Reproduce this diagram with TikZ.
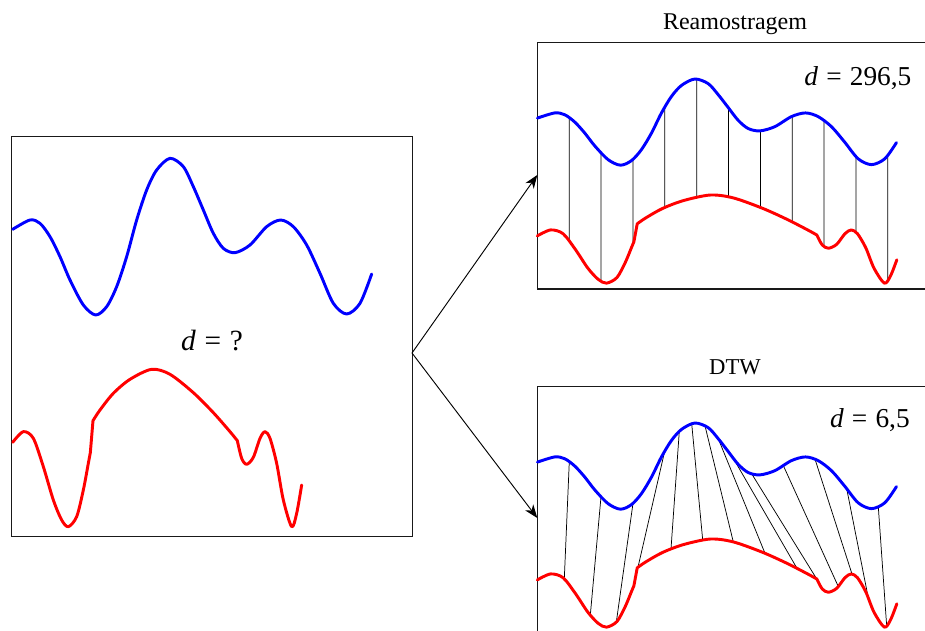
\documentclass[tikz,border=0pt]{standalone}
\usepackage{fontspec}
\setmainfont{Liberation Serif}
\usetikzlibrary{arrows.meta,intersections}
\definecolor{cblue}{RGB}{0,0,255}
\definecolor{cred}{RGB}{255,0,0}
\def\bluecurve{plot[smooth] coordinates {(38,298) (90,270) (120,280) (150,320) (180,380) (210,450) (250,525) (287,555) (320,530) (350,470) (380,380) (410,270) (440,180) (470,120) (510,85) (550,110) (580,170) (610,240) (640,310) (670,355) (705,368) (750,345) (800,290) (842,270) (880,290) (920,345) (960,430) (1000,520) (1040,552) (1080,520) (1115,432)}}
\def\redcurve{plot[smooth] coordinates {(38,937) (70,905) (100,925) (130,1010) (160,1110) (185,1170) (205,1190) (230,1160) (250,1080) (265,1000) (271,968)} -- plot[smooth] coordinates {(279,872) (300,840) (340,790) (390,748) (455,718) (510,733) (580,788) (640,848) (690,905) (712,932)} -- plot[smooth] coordinates {(712,932) (725,985) (740,1003) (760,982) (780,925) (795,905) (810,925) (830,1000) (850,1110) (875,1190) (890,1150) (905,1065)}}
\tikzset{
  frame/.style={draw=black!90, line width=1.1pt, inner sep=0pt, fill=none},
  bcurve/.style={draw=cblue, line width=2.2pt, line join=round, line cap=round},
  rcurve/.style={draw=cred, line width=2.2pt, line join=round, line cap=round},
  link/.style={draw=black, line width=0.55pt},
  arr/.style={draw=black, line width=0.7pt, -{Stealth[length=10pt,width=7.5pt,inset=3pt]}},
  lbl/.style={inner sep=0pt, text=black},
  leftT/.style={shift={(0,130)}, xscale=0.333333, yscale=0.333333},
  blueT/.style={shift={(524.8,#1)}, xscale=0.333333, yscale=0.18333},
  redT/.style={shift={(521.54,#1)}, xscale=0.41467, yscale=0.18667},
}
\begin{document}
\begin{tikzpicture}[x=0.75pt,y=-0.75pt]
\useasboundingbox (0,0) rectangle (925,631);
\clip (0,0) rectangle (925,631);
% frames
\node[frame, minimum width=300.45pt, minimum height=300pt] (L) at (212,336.7) {};
\node[frame, minimum width=330pt, minimum height=184.7pt] (R1) at (757.3,165.85) {};
\node[frame, minimum width=330pt, minimum height=184.7pt] (R2) at (757.3,509.85) {};
% left curves
\begin{scope}[leftT]
  \draw[bcurve] \bluecurve;
  \draw[rcurve] \redcurve;
\end{scope}
% resampling curves (paths)
\begin{scope}[blueT=63.43]
  \path[name path global=BT] \bluecurve;
\end{scope}
\begin{scope}[redT=61]
  \path[name path global=RT] \redcurve;
\end{scope}
\begin{scope}[blueT=407.43]
  \path[name path global=BB] \bluecurve;
\end{scope}
\begin{scope}[redT=405]
  \path[name path global=RB] \redcurve;
\end{scope}
% resampling links
\foreach \xx in {569.3,601.1,633.0,664.8,696.7,728.5,760.4,792.2,824.0,855.9,887.7} {
  \path[name path=vl] (\xx,30) -- (\xx,300);
  \path[name intersections={of=BT and vl, by=pb}];
  \path[name intersections={of=RT and vl, by=pr}];
  \draw[link] (pb) -- (pr);
}
% DTW links
\foreach \xb/\xr in {569.3/564.3, 601/590.3, 633/616.3, 664.7/638, 679.3/671, 691.7/702.7, 705/733.3, 718.3/765, 733.3/797, 751.7/816.7, 783.3/838.3, 815/852, 846.7/868.3, 878.3/886.7} {
  \path[name path=vb] (\xb,370) -- (\xb,640);
  \path[name path=vr] (\xr,370) -- (\xr,640);
  \path[name intersections={of=BB and vb, by=qb}];
  \path[name intersections={of=RB and vr, by=qr}];
  \draw[link] (qb) -- (qr);
}
% visible right curves
\begin{scope}[blueT=63.43]
  \draw[bcurve] \bluecurve;
\end{scope}
\begin{scope}[redT=61]
  \draw[rcurve] \redcurve;
\end{scope}
\begin{scope}[blueT=407.43]
  \draw[bcurve] \bluecurve;
\end{scope}
\begin{scope}[redT=405]
  \draw[rcurve] \redcurve;
\end{scope}
% arrows
\coordinate (s) at (412,353);
\coordinate (t1) at (537.3,175);
\coordinate (t2) at (537.3,518);
\draw[arr] (s) -- (t1);
\draw[arr] (s) -- (t2);
% labels
\node[lbl, anchor=base] (q) at (212,350) {\fontsize{22}{26}\selectfont\textit{d}\hspace{0.3em}=\hspace{0.3em}?};
\node[lbl, anchor=base east] (d1) at (911.7,86) {\fontsize{20.5}{24}\selectfont\textit{d}\hspace{0.3em}=\hspace{0.3em}296,5};
\node[lbl, anchor=base east] (d2) at (910,427.5) {\fontsize{20.5}{24}\selectfont\textit{d}\hspace{0.3em}=\hspace{0.3em}6,5};
\node[lbl, anchor=base] (t1l) at (735,30) {\fontsize{18}{21}\selectfont Reamostragem};
\node[lbl, anchor=base] (t2l) at (735,374) {\fontsize{17}{20}\selectfont DTW};
\end{tikzpicture}
\end{document}
